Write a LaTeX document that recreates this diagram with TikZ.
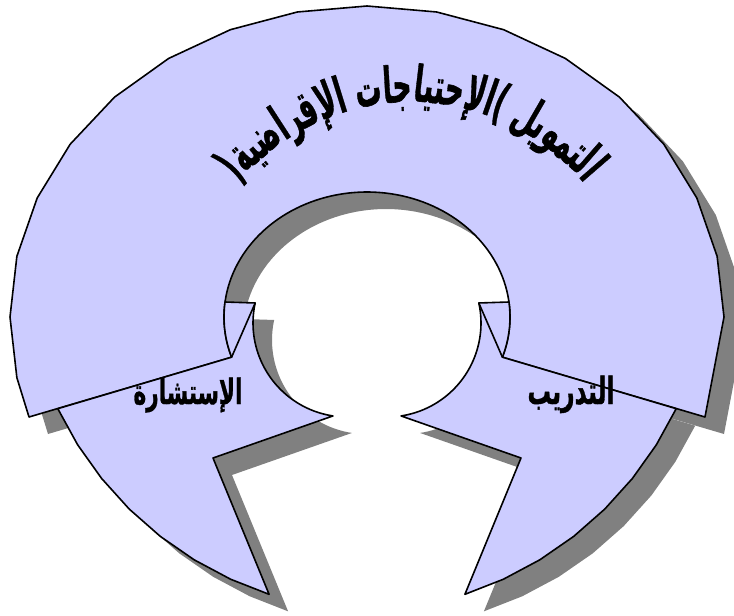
\documentclass[tikz,border=0pt]{standalone}
\usepackage{fontspec}
\newfontfamily\arabicfont[Script=Arabic,BoldFeatures={FakeBold=1.2}]{DejaVu Sans}
\TeXXeTstate=1
\definecolor{lav}{HTML}{CCCCFF}
\definecolor{shd}{HTML}{808080}
\newlength\pw
\newcommand\ar[1]{{\arabicfont\bfseries\beginR #1\endR}}
\newcommand\arT[2]{{\arabicfont\bfseries\fontsize{#1}{#1}\selectfont\beginR #2\endR}}
\def\toppieces{ا,لتمو,يل,~,{)},ا,لإ,حتيا,جا,ت,~,ا,لإ,قر,ا,ضية,{(}}
\def\arcLen{395}
\def\arcR{225}
\def\arcCx{411}
\def\arcCy{327}
\begin{document}
% pre-compute sizes and angles outside the picture
\gdef\totw{0}%
\foreach \p in \toppieces {%
  \settowidth\pw{\arT{20}{\p}}%
  \pgfmathsetmacro\tmp{\totw+\pw}%
  \xdef\totw{\tmp}%
}%
\pgfmathsetmacro\tmp{20*\arcLen/\totw}%
\xdef\fs{\tmp}%
\pgfmathsetmacro\tmp{(\arcLen/2)/\arcR*57.29578}%
\xdef\phicur{\tmp}%
\foreach \p [count=\i] in \toppieces {%
  \settowidth\pw{\arT{\fs}{\p}}%
  \pgfmathsetmacro\tmp{\phicur - (\pw/2)/\arcR*57.29578}%
  \expandafter\xdef\csname phic\i\endcsname{\tmp}%
  \pgfmathsetmacro\tmp{\phicur - \pw/\arcR*57.29578}%
  \xdef\phicur{\tmp}%
}%
\begin{tikzpicture}[x=1pt,y=-1pt,
  seg/.style={fill=lav,draw=black,line width=1.6pt,line join=round},
  shadowfill/.style={fill=shd},
  lbl/.style={inner sep=0pt,anchor=base}]
\useasboundingbox (0,0) rectangle (734,616);
\def\Tpath{(29.0,417.0) -- plot[samples at={-1,...,16}] ({367+357*cos(180+11.25*\x)},{317+311*sin(180+11.25*\x)}) -- (705.0,417.0) -- plot[domain=378.75:161.25,samples=100] ({367+143*cos(\x)},{317+125*sin(\x)}) -- cycle}
\def\Lpath{(225.0,302.0) -- plot[domain=192.3:98.6,samples=40] ({347+94*cos(\x)},{323+94*sin(\x)}) -- (213,458) -- plot[domain=108.1:154.5,samples=8] ({380+357*cos(\x)},{255+357*sin(\x)}) -- (231.6,357.2) -- plot[domain=161.25:186.9,samples=10] ({367+143*cos(\x)},{317+125*sin(\x)}) -- cycle}
% shadows
\begin{scope}[shift={(19,17)}]
  \fill[shadowfill] \Tpath;
  \fill[shadowfill] \Lpath;
  \begin{scope}[xshift=734pt,xscale=-1]
    \fill[shadowfill] \Lpath;
  \end{scope}
\end{scope}
% segments
\path[seg] \Tpath;
\path[seg] \Lpath;
\draw[seg,fill=none] (255.2,303) -- (231.6,357.2);
\begin{scope}[xshift=734pt,xscale=-1]
  \path[seg] \Lpath;
  \draw[seg,fill=none] (255.2,303) -- (231.6,357.2);
\end{scope}
% labels
\node[lbl] (cons) at (188,404) {\resizebox{109pt}{!}{\scalebox{1}[1.6]{\ar{الإستشارة}}}};
\node[lbl] (train) at (571,404) {\resizebox{87pt}{!}{\scalebox{1}[1.6]{\ar{التدريب}}}};
% curved top text
\foreach \p [count=\i] in \toppieces {
  \pgfmathsetmacro\phic{\csname phic\i\endcsname}
  \node[lbl,rotate=-\phic] (top\i) at ({\arcCx+\arcR*sin(\phic)},{\arcCy-\arcR*cos(\phic)}) {\scalebox{1}[1.9]{\arT{\fs}{\p}}};
}
\end{tikzpicture}
\end{document}
